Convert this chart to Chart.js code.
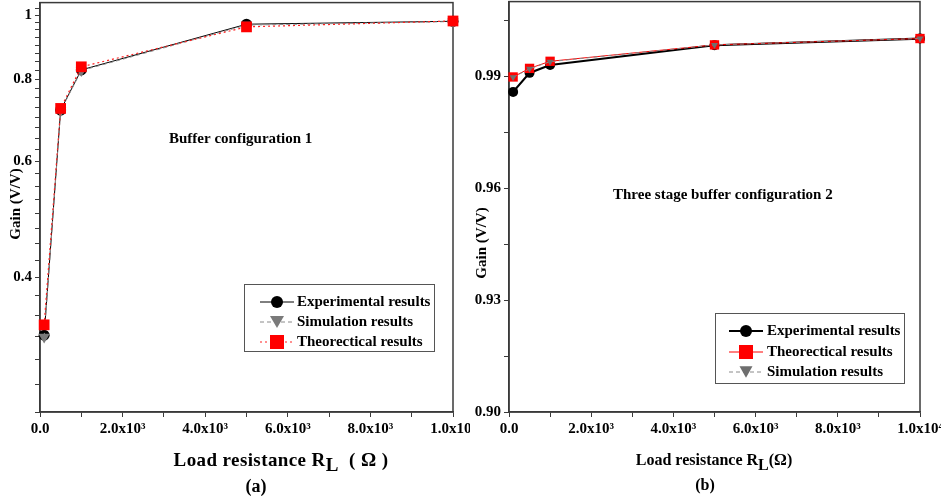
<!DOCTYPE html>
<html><head><meta charset="utf-8">
<script src="https://cdn.jsdelivr.net/npm/chart.js@4.4.0/dist/chart.umd.min.js"></script>
<style>
html,body{margin:0;padding:0;background:#fff;overflow:hidden;width:941px;height:501px;}
#c1{position:absolute;left:0;top:-5px;}
#c2{position:absolute;left:470px;top:-5px;background:#fff;}
</style></head><body>
<canvas id="c1" width="500" height="506"></canvas>
<canvas id="c2" width="500" height="506"></canvas>
<script>
// ---------- data ----------
const resistance = [100, 500, 1000, 5000, 10000];
const xTickValues = [0, 1000, 2000, 3000, 4000, 5000, 6000, 7000, 8000, 9000, 10000];
const xTickLabels = {0: '0.0', 2000: '2.0x10³', 4000: '4.0x10³', 6000: '6.0x10³', 8000: '8.0x10³', 10000: '1.0x10⁴'};

// (a) Buffer configuration 1
const leftExperimental = [0.327, 0.718, 0.826, 0.969, 0.979];
const leftSimulation   = [0.325, 0.716, 0.824, 0.966, 0.978];
const leftTheoretical  = [0.339, 0.722, 0.835, 0.960, 0.980];
const leftYMajor = [0.4, 0.6, 0.8, 1];
const leftYLabels = {0.4: '0.4', 0.6: '0.6', 0.8: '0.8', 1: '1'};
const leftYMinor = [0.25, 0.275, 0.3, 0.325, 0.35, 0.375, 0.425, 0.45, 0.475, 0.5, 0.525, 0.55, 0.575,
  0.625, 0.65, 0.675, 0.7, 0.725, 0.75, 0.775, 0.825, 0.85, 0.875, 0.9, 0.925, 0.95, 0.975, 1.025];

// (b) Three stage buffer configuration 2
const rightExperimental = [0.9858, 0.9909, 0.9930, 0.9983, 1.0001];
const rightTheoretical  = [0.9898, 0.9921, 0.9940, 0.9984, 1.0001];
const rightSimulation   = [0.9897, 0.9920, 0.9939, 0.9984, 1.0001];
const rightYMajor = [0.90, 0.93, 0.96, 0.99];
const rightYMinor = [0.915, 0.945, 0.975, 1.005];

Chart.defaults.font.family = '"Liberation Serif", "Times New Roman", serif';
Chart.defaults.font.weight = 'bold';
Chart.defaults.font.size = 15;
Chart.defaults.color = '#000';

const FONT = '"Liberation Serif", "Times New Roman", serif';
const AXIS = '#3a3a3a';
const DY = 5; // canvas is shifted up by this many pixels

function drawMarker(ctx, type, x, y, size, color) {
  ctx.save();
  ctx.fillStyle = color; ctx.strokeStyle = color; ctx.setLineDash([]);
  ctx.beginPath();
  if (type === 'circle') { ctx.arc(x, y, size / 2, 0, Math.PI * 2); }
  else if (type === 'rect') { ctx.rect(x - size / 2, y - size / 2, size, size); }
  else if (type === 'tri') {
    const h = size * 0.866;
    ctx.moveTo(x - size / 2, y - h / 2); ctx.lineTo(x + size / 2, y - h / 2); ctx.lineTo(x, y + h / 2); ctx.closePath();
  }
  ctx.fill();
  ctx.restore();
}

const deco = {
  id: 'deco',
  beforeDatasetsDraw(chart, args, o) {
    const a = chart.chartArea, ctx = chart.ctx;
    ctx.save();
    ctx.strokeStyle = AXIS; ctx.lineWidth = 1.5;
    ctx.strokeRect(a.left, a.top, a.right - a.left, a.bottom - a.top);
    ctx.restore();
  },
  afterDraw(chart, args, o) {
    const ctx = chart.ctx;
    ctx.save();
    ctx.translate(0, DY);
    ctx.fillStyle = '#000';
    // y title
    ctx.save();
    ctx.translate(o.yTitle.x, o.yTitle.y);
    ctx.rotate(-Math.PI / 2);
    ctx.font = 'bold ' + o.yTitle.size + 'px ' + FONT;
    ctx.textAlign = 'center'; ctx.textBaseline = 'middle';
    ctx.fillText('Gain (V/V)', 0, 0);
    ctx.restore();
    // x title with subscript
    ctx.save();
    ctx.font = 'bold ' + o.xTitle.size + 'px ' + FONT;
    if ('letterSpacing' in ctx) ctx.letterSpacing = o.xTitle.spacing + 'px';
    ctx.textBaseline = 'alphabetic'; ctx.textAlign = 'left';
    const p1 = 'Load resistance R', p2 = 'L', p3 = o.xTitle.tail;
    const w1 = ctx.measureText(p1).width, w2 = ctx.measureText(p2).width, w3 = ctx.measureText(p3).width;
    let sx = o.xTitle.x - (w1 + w2 + w3) / 2;
    const by = o.xTitle.y;
    ctx.fillText(p1, sx, by); sx += w1;
    ctx.fillText(p2, sx, by + 5); sx += w2;
    ctx.fillText(p3, sx, by);
    ctx.restore();
    ctx.font = 'bold ' + o.sub.size + 'px ' + FONT;
    ctx.textAlign = 'center'; ctx.textBaseline = 'alphabetic';
    ctx.fillText(o.sub.text, o.sub.x, o.sub.y);
    // annotation
    ctx.font = 'bold 15px ' + FONT;
    ctx.textAlign = 'left'; ctx.textBaseline = 'middle';
    ctx.fillText(o.note.text, o.note.x, o.note.y);
    // legend
    const L = o.legend;
    ctx.strokeStyle = '#555'; ctx.lineWidth = 1; ctx.setLineDash([]);
    ctx.strokeRect(L.x0 + 0.5, L.y0 + 0.5, L.x1 - L.x0, L.y1 - L.y0);
    L.items.forEach((it, i) => {
      const y = L.rows[i];
      ctx.save();
      ctx.strokeStyle = it.line; ctx.lineWidth = it.lw; ctx.setLineDash(it.dash);
      ctx.beginPath(); ctx.moveTo(L.lx0, y); ctx.lineTo(L.lx1, y); ctx.stroke();
      ctx.restore();
      drawMarker(ctx, it.marker, (L.lx0 + L.lx1) / 2, y, it.size, it.color);
      ctx.fillStyle = '#000';
      ctx.font = 'bold 15px ' + FONT;
      ctx.textAlign = 'left'; ctx.textBaseline = 'middle';
      ctx.fillText(it.label, L.tx, y);
    });
    ctx.restore();
  }
};

function xScale() {
  return {
    type: 'linear', min: 0, max: 10000,
    afterBuildTicks: s => { s.ticks = xTickValues.map(v => ({value: v})); },
    afterFit: s => { s.height = 89; s.paddingLeft = 0; s.paddingRight = 0; },
    ticks: { autoSkip: false, maxRotation: 0, padding: 3,
      callback: v => (xTickLabels[v] !== undefined ? xTickLabels[v] : '') },
    grid: { drawOnChartArea: false, drawTicks: true, tickLength: 5, color: AXIS, lineWidth: 1 },
    border: { display: true, color: AXIS, width: 1.5 }
  };
}

// ---------- chart (a) ----------
new Chart(document.getElementById('c1'), {
  type: 'line',
  data: {
    datasets: [
      { label: 'Theorectical results', data: resistance.map((x, i) => ({x, y: leftTheoretical[i]})),
        borderColor: '#ff2020', borderWidth: 1.2, borderDash: [2, 3], pointStyle: 'rect', pointRadius: 7.6,
        pointBackgroundColor: '#ff0000', pointBorderColor: '#ff0000', pointBorderWidth: 0, clip: false },
      { label: 'Simulation results', data: resistance.map((x, i) => ({x, y: leftSimulation[i]})),
        borderColor: '#8a8a8a', borderWidth: 1, borderDash: [4, 3], pointStyle: 'triangle', pointRotation: 180, pointRadius: 6.5,
        pointBackgroundColor: '#7a7a7a', pointBorderColor: '#7a7a7a', pointBorderWidth: 0, clip: false },
      { label: 'Experimental results', data: resistance.map((x, i) => ({x, y: leftExperimental[i]})),
        borderColor: '#000', borderWidth: 1, pointStyle: 'circle', pointRadius: 5.5,
        pointBackgroundColor: '#000', pointBorderColor: '#000', pointBorderWidth: 0, clip: false }
    ]
  },
  options: {
    responsive: false, animation: false, devicePixelRatio: 1,
    layout: { padding: { top: 1, left: 0, right: 47, bottom: 0 } },
    plugins: {
      legend: { display: false }, tooltip: { enabled: false },
      deco: {
        yTitle: { x: 16, y: 204, size: 15 },
        xTitle: { x: 281, y: 466, size: 19, spacing: 0.4, tail: '  ( Ω )' },
        sub: { text: '(a)', x: 256, y: 492, size: 18 },
        note: { text: 'Buffer configuration 1', x: 169, y: 139 },
        legend: { x0: 244, y0: 284, x1: 434, y1: 351, rows: [302, 322, 342], lx0: 260, lx1: 294, tx: 297,
          items: [
            { label: 'Experimental results', line: '#000', lw: 1, dash: [], marker: 'circle', size: 12, color: '#000' },
            { label: 'Simulation results', line: '#8a8a8a', lw: 1, dash: [4, 3], marker: 'tri', size: 14, color: '#7a7a7a' },
            { label: 'Theorectical results', line: '#ff2020', lw: 1.2, dash: [2, 3], marker: 'rect', size: 14, color: '#ff0000' }
          ] }
      }
    },
    scales: {
      x: xScale(),
      y: {
        type: 'logarithmic', min: 0.25, max: 1.045,
        afterBuildTicks: s => { s.ticks = leftYMajor.concat(leftYMinor).sort((a, b) => a - b).map(v => ({value: v})); },
        afterFit: s => { s.width = 40; s.paddingTop = 0; s.paddingBottom = 0; },
        ticks: { autoSkip: false, padding: 3,
          callback: v => { const k = Object.keys(leftYLabels).find(t => Math.abs(+t - v) < 1e-6); return k !== undefined ? leftYLabels[k] : ''; } },
        grid: { drawOnChartArea: false, drawTicks: true, tickLength: 5, color: AXIS, lineWidth: 1 },
        border: { display: true, color: AXIS, width: 1.5 }
      }
    }
  },
  plugins: [deco]
});

// ---------- chart (b) ----------
new Chart(document.getElementById('c2'), {
  type: 'line',
  data: {
    datasets: [
      { label: 'Simulation results', data: resistance.map((x, i) => ({x, y: rightSimulation[i]})),
        borderColor: '#8a8a8a', borderWidth: 1, borderDash: [4, 3], pointStyle: 'triangle', pointRotation: 180, pointRadius: 4,
        pointBackgroundColor: '#6e6e6e', pointBorderColor: '#6e6e6e', pointBorderWidth: 0, clip: false },
      { label: 'Theorectical results', data: resistance.map((x, i) => ({x, y: rightTheoretical[i]})),
        borderColor: '#ff0000', borderWidth: 1, pointStyle: 'rect', pointRadius: 6.6,
        pointBackgroundColor: '#ff0000', pointBorderColor: '#ff0000', pointBorderWidth: 0, clip: false },
      { label: 'Experimental results', data: resistance.map((x, i) => ({x, y: rightExperimental[i]})),
        borderColor: '#000', borderWidth: 2.2, pointStyle: 'circle', pointRadius: 5,
        pointBackgroundColor: '#000', pointBorderColor: '#000', pointBorderWidth: 0, clip: false }
    ]
  },
  options: {
    responsive: false, animation: false, devicePixelRatio: 1,
    layout: { padding: { top: 1, left: 0, right: 50, bottom: 0 } },
    plugins: {
      legend: { display: false }, tooltip: { enabled: false },
      deco: {
        yTitle: { x: 12, y: 243, size: 15 },
        xTitle: { x: 244, y: 465, size: 16, spacing: 0, tail: '(Ω)' },
        sub: { text: '(b)', x: 235, y: 490, size: 16 },
        note: { text: 'Three stage buffer configuration 2', x: 143, y: 195 },
        legend: { x0: 245, y0: 313, x1: 434, y1: 383, rows: [331, 352, 372], lx0: 259, lx1: 293, tx: 297,
          items: [
            { label: 'Experimental results', line: '#000', lw: 2, dash: [], marker: 'circle', size: 12, color: '#000' },
            { label: 'Theorectical results', line: '#ff0000', lw: 1, dash: [], marker: 'rect', size: 14, color: '#ff0000' },
            { label: 'Simulation results', line: '#8a8a8a', lw: 1, dash: [4, 3], marker: 'tri', size: 13, color: '#6e6e6e' }
          ] }
      }
    },
    scales: {
      x: xScale(),
      y: {
        type: 'linear', min: 0.90, max: 1.01,
        afterBuildTicks: s => { s.ticks = rightYMajor.concat(rightYMinor).sort((a, b) => a - b).map(v => ({value: v})); },
        afterFit: s => { s.width = 39; s.paddingTop = 0; s.paddingBottom = 0; },
        ticks: { autoSkip: false, padding: 3,
          callback: v => (rightYMajor.some(t => Math.abs(t - v) < 1e-6) ? v.toFixed(2) : '') },
        grid: { drawOnChartArea: false, drawTicks: true, tickLength: 5, color: AXIS, lineWidth: 1 },
        border: { display: true, color: AXIS, width: 1.5 }
      }
    }
  },
  plugins: [deco]
});
</script>
</body></html>
